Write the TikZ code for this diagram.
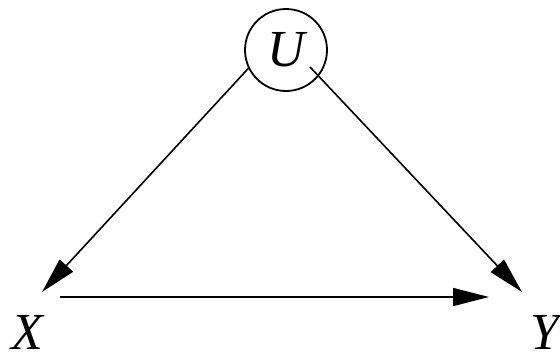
\documentclass[tikz,border=0pt]{standalone}
\usepackage{fontspec}
\setmainfont{Liberation Serif}
\usepackage{tikz}
\usetikzlibrary{arrows.meta, calc}
\tikzset{
  latent/.style={
    circle, draw, line width=0.9pt,
    minimum size=41pt, inner sep=0pt,
    font=\fontsize{26}{30}\selectfont\itshape,
  },
  observed/.style={
    inner sep=0pt,
    font=\fontsize{26}{30}\selectfont\itshape,
  },
  arrow/.style={-{Triangle[length=18pt, width=9pt]}, line width=0.8pt},
}

\begin{document}
\begin{tikzpicture}[x=0.5pt, y=-0.5pt]
  \useasboundingbox (0,0) rectangle (560,354);

  \node[latent] (U) at (286,50) {U};
  \node[observed] (X) at (27,332) {X};
  \node[observed] (Y) at (545,332) {Y};

  \draw[arrow] (U.206) -- ($(X)+(15,-40)$);
  \draw[arrow] ($(U)+(24,17)$) -- ($(Y)+(-23,-40)$);
  \draw[arrow] ($(X)+(33,-35)$) -- ($(Y)+(-56,-35)$);

\end{tikzpicture}
\end{document}
